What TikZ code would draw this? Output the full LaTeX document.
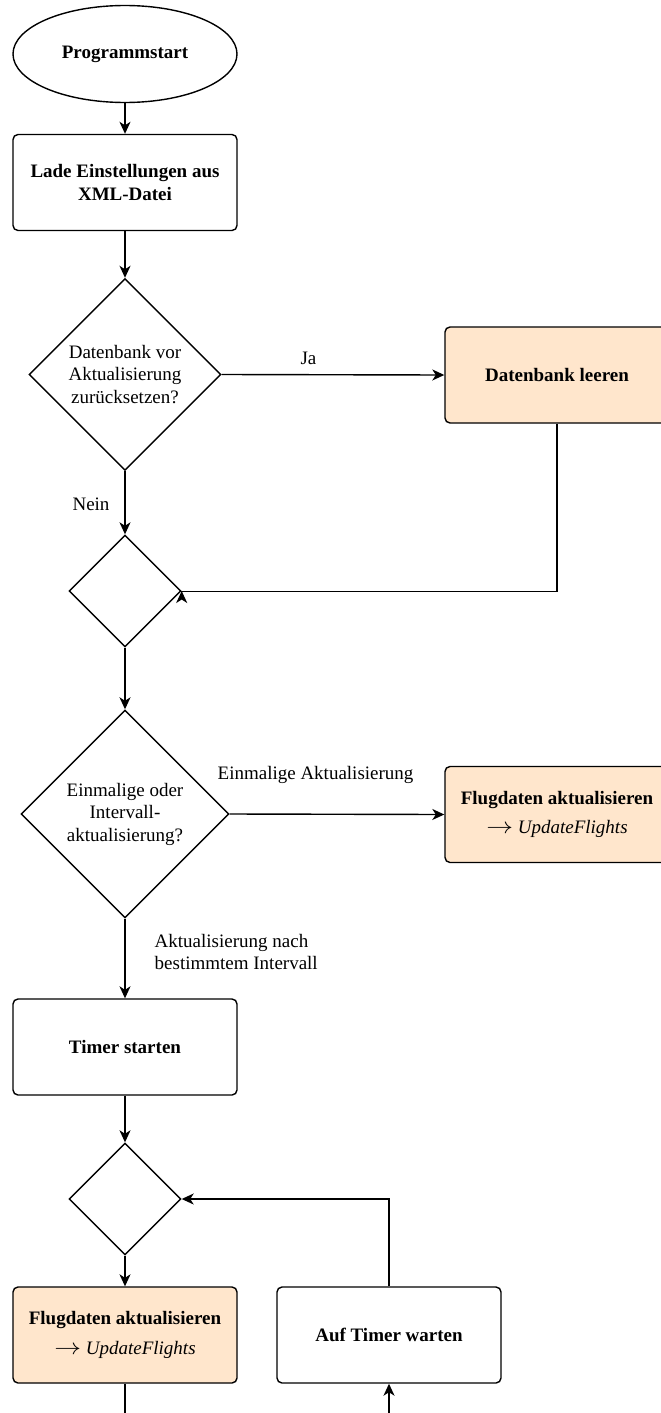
\documentclass[tikz,border=0pt]{standalone}
\usepackage{fontspec}
\setmainfont{Liberation Serif}
\usetikzlibrary{shapes.geometric,arrows.meta}
\definecolor{peach}{HTML}{FFE6CC}
\newcommand{\callarrow}{\scalebox{1.55}[1.3]{$\rightarrow$}}
\begin{document}
\begin{tikzpicture}[x=1pt,y=-1pt,
  every node/.style={font=\fontsize{19}{22.5}\selectfont},
  proc/.style={draw, line width=1.4pt, rounded corners=5pt, minimum width=224pt,
               minimum height=96pt, inner sep=0pt, align=center, font=\fontsize{19}{22.5}\selectfont\bfseries},
  hot/.style={proc, fill=peach},
  decide/.style={draw, line width=1.4pt, diamond, inner sep=0pt, align=center, aspect=1},
  startnode/.style={draw, line width=1.4pt, ellipse, minimum width=224pt, minimum height=97pt,
               inner sep=0pt, font=\fontsize{19}{22.5}\selectfont\bfseries},
  arr/.style={line width=1.4pt, -{Stealth[length=12pt,width=11pt,inset=3.5pt]}},
  wire/.style={line width=1.4pt},
  lbl/.style={align=left, inner sep=0pt}
]
\clip (0,0) rectangle (661,1413);
\fill[white] (0,0) rectangle (661,1413);

% shapes
\node[startnode] (start) at (125,54) {Programmstart};
\node[proc] (load) at (125,182.5) {Lade Einstellungen aus\\XML-Datei};
\node[decide, minimum width=192pt, minimum height=192pt] (reset) at (125,374.5)
  {Datenbank vor\\Aktualisierung\\zurücksetzen?};
\node[hot] (clear) at (557,375) {Datenbank leeren};
\node[decide, minimum width=112pt, minimum height=112pt] (merge1) at (125,591) {};
\node[decide, minimum width=208pt, minimum height=208pt] (mode) at (125,814)
  {Einmalige oder\\Intervall-\\aktualisierung?};
\node[hot] (updOnce) at (557,814.5)
  {Flugdaten aktualisieren\\[7pt]\mdseries\callarrow\ \textit{UpdateFlights}};
\node[proc] (timer) at (125,1047) {Timer starten};
\node[decide, minimum width=112pt, minimum height=112pt] (merge2) at (125,1199) {};
\node[hot] (updLoop) at (125,1335)
  {Flugdaten aktualisieren\\[7pt]\mdseries\callarrow\ \textit{UpdateFlights}};
\node[proc] (wait) at (389,1335) {Auf Timer warten};

\coordinate (outLoop) at (125,1425);
\coordinate (inWait) at (389,1425);

% connectors
\draw[arr] (start) -- (load);
\draw[arr] (load) -- (reset);
\draw[arr] (reset.east) -- node[pos=0.39, yshift=16pt] (ja) {Ja} (clear.west);
\draw[arr] (reset.south) -- node[pos=0.52, xshift=-34pt] (nein) {Nein} (merge1.north);
\draw[arr] (clear.south) |- ([yshift=-0.5pt]merge1.east) -- (merge1.east);
\draw[arr] (merge1) -- (mode);
\draw[arr] (mode.east) -- node[pos=0.4, yshift=39pt] (once) {Einmalige Aktualisierung} (updOnce.west);
\draw[arr] (mode.south) -- node[lbl, pos=0.42, anchor=west, xshift=29pt] (interval)
  {Aktualisierung nach\\bestimmtem Intervall} (timer.north);
\draw[arr] (timer) -- (merge2);
\draw[arr] (merge2) -- (updLoop);
\draw[arr] (wait.north) |- (merge2.east);
\draw[wire] (updLoop.south) -- (outLoop);
\draw[arr] (inWait) -- (wait.south);
\end{tikzpicture}
\end{document}
